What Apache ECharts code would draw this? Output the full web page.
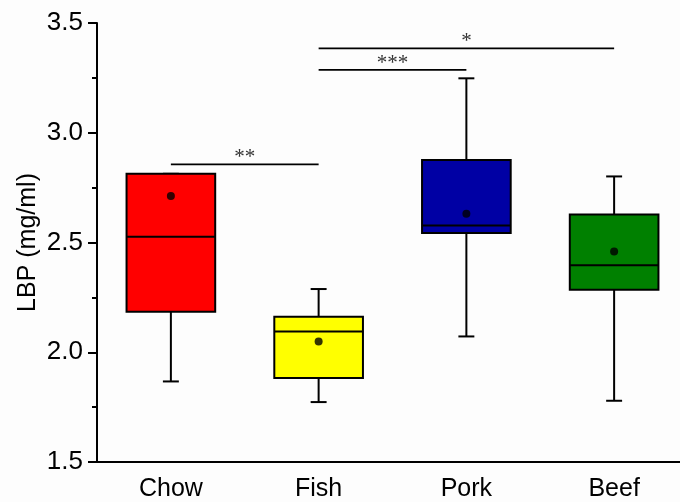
<!DOCTYPE html>
<html>
<head>
<meta charset="utf-8">
<script src="https://cdn.jsdelivr.net/npm/echarts@6/dist/echarts.min.js"></script>
<style>
html,body{margin:0;padding:0;background:#fdfdfd;}
#chart{width:680px;height:502px;}
</style>
</head>
<body>
<div id="chart"></div>
<script>
// Data
var categories = ['Chow', 'Fish', 'Pork', 'Beef'];
// [min, Q1, median, Q3, max]
var chowBox = [1.867, 2.185, 2.526, 2.813, 2.813];
var fishBox = [1.773, 1.883, 2.095, 2.162, 2.288];
var porkBox = [2.072, 2.543, 2.578, 2.876, 3.248];
var beefBox = [1.779, 2.285, 2.396, 2.627, 2.801];
var means = [2.712, 2.049, 2.631, 2.459];
var boxColors = ['#ff0000', '#ffff00', '#0000a4', '#008000'];
// significance brackets: [fromIndex, toIndex, y, label]
var sigFrom = [0, 1, 1];
var sigTo = [1, 2, 3];
var sigY = [2.856, 3.286, 3.384];
var sigLabel = ['**', '***', '*'];
var yTicks = [1.5, 2.0, 2.5, 3.0, 3.5];

var boxes = [chowBox, fishBox, porkBox, beefBox];
var boxData = boxes.map(function (b, i) { return [i].concat(b); });
var sigData = sigFrom.map(function (f, i) { return [f, sigTo[i], sigY[i], sigLabel[i]]; });

var chart = echarts.init(document.getElementById('chart'));

function renderBox(params, api) {
  var x = api.value(0);
  var lo = api.coord([x, api.value(1)]);
  var q1 = api.coord([x, api.value(2)]);
  var med = api.coord([x, api.value(3)]);
  var q3 = api.coord([x, api.value(4)]);
  var hi = api.coord([x, api.value(5)]);
  var band = api.size([1, 0])[0];
  var bw = band * 0.6;
  var cw = band * 0.108;
  var cx = lo[0];
  var ls = { stroke: '#000', lineWidth: 2 };
  return {
    type: 'group',
    children: [
      { type: 'line', shape: { x1: cx, y1: hi[1], x2: cx, y2: q3[1] }, style: ls },
      { type: 'line', shape: { x1: cx, y1: q1[1], x2: cx, y2: lo[1] }, style: ls },
      { type: 'line', shape: { x1: cx - cw / 2, y1: hi[1], x2: cx + cw / 2, y2: hi[1] }, style: ls },
      { type: 'line', shape: { x1: cx - cw / 2, y1: lo[1], x2: cx + cw / 2, y2: lo[1] }, style: ls },
      { type: 'rect', shape: { x: cx - bw / 2, y: q3[1], width: bw, height: q1[1] - q3[1] },
        style: { fill: boxColors[params.dataIndex], stroke: '#000', lineWidth: 2 } },
      { type: 'line', shape: { x1: cx - bw / 2, y1: med[1], x2: cx + bw / 2, y2: med[1] }, style: ls }
    ]
  };
}

function renderSig(params, api) {
  var a = api.coord([api.value(0), api.value(2)]);
  var b = api.coord([api.value(1), api.value(2)]);
  return {
    type: 'group',
    children: [
      { type: 'line', shape: { x1: a[0], y1: a[1], x2: b[0], y2: b[1] },
        style: { stroke: '#000', lineWidth: 1.8 } },
      { type: 'text', x: (a[0] + b[0]) / 2, y: a[1] + 4,
        style: { text: sigLabel[params.dataIndex], fill: '#333', font: '21px "Liberation Serif"',
                 align: 'center', verticalAlign: 'bottom' } }
    ]
  };
}

chart.setOption({
  backgroundColor: '#fdfdfd',
  animation: false,
  grid: { left: 97, right: -8, top: 23, bottom: 40, containLabel: false, outerBoundsMode: 'none' },
  xAxis: {
    type: 'category',
    data: categories,
    axisLine: { lineStyle: { color: '#000', width: 2 } },
    axisTick: { alignWithLabel: true, length: 9, lineStyle: { color: '#000', width: 2 } },
    axisLabel: { color: '#000', fontSize: 25, fontFamily: 'Liberation Sans, Arial', margin: 15 },
    splitLine: { show: false }
  },
  yAxis: {
    type: 'value',
    min: yTicks[0],
    max: yTicks[yTicks.length - 1],
    interval: 0.5,
    name: 'LBP (mg/ml)',
    nameLocation: 'middle',
    nameGap: 56,
    nameMoveOverlap: false,
    nameTextStyle: { color: '#000', fontSize: 25, fontFamily: 'Liberation Sans, Arial' },
    axisLine: { show: true, lineStyle: { color: '#000', width: 2 } },
    axisTick: { show: true, length: 9, lineStyle: { color: '#000', width: 2 } },
    minorTick: { show: true, splitNumber: 2, length: 5, lineStyle: { color: '#000', width: 2 } },
    axisLabel: { color: '#000', fontSize: 26, fontFamily: 'Liberation Sans, Arial', margin: 14,
                 formatter: function (v) { return v.toFixed(1); } },
    splitLine: { show: false }
  },
  series: [
    { type: 'custom', renderItem: renderBox, data: boxData, encode: { x: 0, y: [1, 2, 3, 4, 5] }, z: 2 },
    { type: 'scatter', data: means.map(function (m, i) { return [i, m]; }), symbol: 'circle', symbolSize: 8,
      itemStyle: { color: '#000' }, z: 5 },
    { type: 'custom', renderItem: renderSig, data: sigData, encode: { x: [0, 1], y: 2 }, z: 3 }
  ]
});
</script>
</body>
</html>
